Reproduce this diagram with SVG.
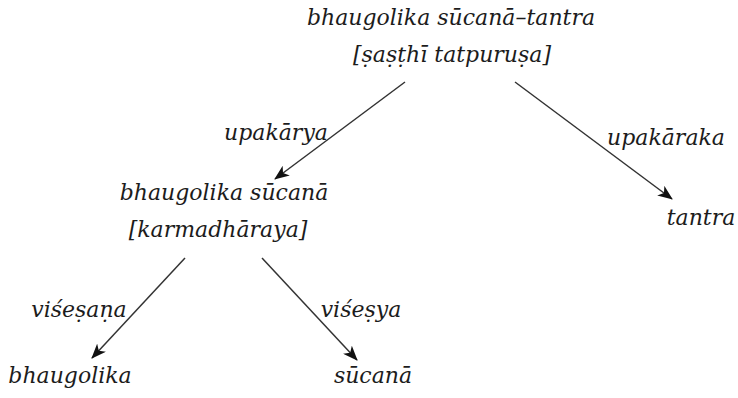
<svg xmlns="http://www.w3.org/2000/svg" width="738" height="398" viewBox="0 0 738 398">
  <defs>
    <style>
      .t { font-family: "DejaVu Serif", "Liberation Serif", serif; font-style: italic; font-size: 22px; fill: #1c1c1c; }
      .e { stroke: #333; stroke-width: 1.5; fill: none; marker-end: url(#arr); }
    </style>
    <marker id="arr" viewBox="0 0 15 12" refX="14" refY="6" markerWidth="15" markerHeight="12" markerUnits="userSpaceOnUse" orient="auto">
      <path d="M0,0 L15,6 L0,12 L4,6 Z" fill="#111"/>
    </marker>
  </defs>
  <g id="edges">
    <line class="e" x1="405" y1="82" x2="275" y2="179"/>
    <line class="e" x1="515" y1="82" x2="672" y2="199"/>
    <line class="e" x1="185" y1="258" x2="92" y2="358"/>
    <line class="e" x1="262" y1="258" x2="357" y2="360"/>
  </g>
  <g id="root">
    <text class="t" x="451" y="25" text-anchor="middle">bhaugolika sūcanā–tantra</text>
    <text class="t" x="452" y="62" text-anchor="middle">[ṣaṣṭhī tatpuruṣa]</text>
  </g>
  <g id="compound">
    <text class="t" x="224" y="200" text-anchor="middle">bhaugolika sūcanā</text>
    <text class="t" x="218" y="237" text-anchor="middle">[karmadhāraya]</text>
  </g>
  <g id="tantra">
    <text class="t" x="701" y="225" text-anchor="middle">tantra</text>
  </g>
  <g id="bhaugolika">
    <text class="t" x="70" y="383" text-anchor="middle">bhaugolika</text>
  </g>
  <g id="sucana">
    <text class="t" x="373" y="383" text-anchor="middle">sūcanā</text>
  </g>
  <g id="labels">
    <text class="t" x="276" y="140" text-anchor="middle">upakārya</text>
    <text class="t" x="666" y="145" text-anchor="middle">upakāraka</text>
    <text class="t" x="79" y="317" text-anchor="middle">viśeṣaṇa</text>
    <text class="t" x="361" y="317" text-anchor="middle">viśeṣya</text>
  </g>
</svg>
